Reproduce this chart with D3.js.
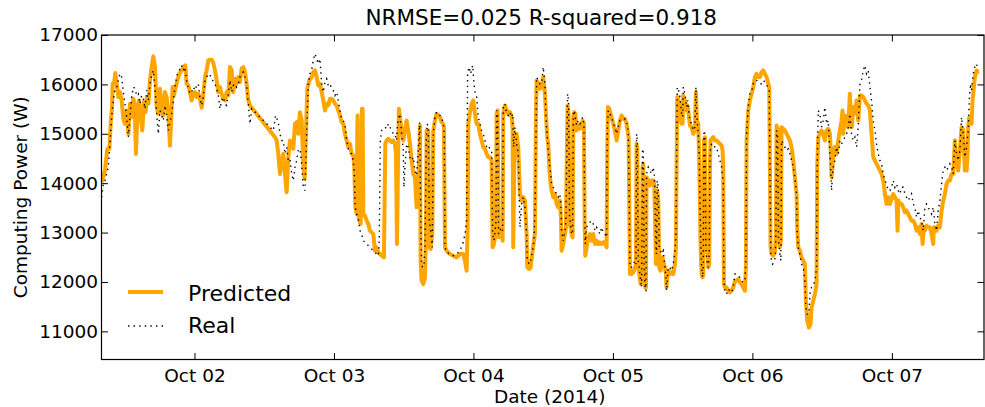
<!DOCTYPE html>
<html><head><meta charset="utf-8">
<script src="https://cdn.jsdelivr.net/npm/d3@7"></script>
<style>
body{margin:0;background:#fff}
svg{display:block}
text{font-family:"DejaVu Sans",sans-serif;fill:#000}
</style>
</head><body>
<svg id="chart" width="985" height="407"></svg>
<script>
// ---- data (hours since 2014-10-01 00:00, watts) ----
const chartTitle = "NRMSE=0.025 R-squared=0.918";
const yLabel = "Computing Power (W)";
const xLabel = "Date (2014)";
const seriesNames = ["Predicted", "Real"];
const yTickValues = [11000, 12000, 13000, 14000, 15000, 16000, 17000];
const xTickDays = [2, 3, 4, 5, 6, 7];   // October 2014, midnight
const xDomainHours = [8.0, 159.85];
const yDomain = [10430, 17000];

const predicted = [
[8.03,14020],[8.60,14255],[9.00,14695],[9.35,14695],[9.58,15202],[9.81,15540],[9.92,16013],[10.15,16013],[10.38,16229],[10.61,16013],[10.89,15743],[11.18,15844],[11.47,15675],[11.76,15303],[12.04,15202],[12.33,15472],[12.62,14999],[12.90,15607],[13.19,15337],[13.48,15709],[13.70,15607],[13.93,14593],[14.16,15405],[14.45,15675],[14.74,15337],[15.02,15067],[15.31,15641],[15.60,15438],[15.77,15709],[16.06,15607],[16.34,16081],[16.63,16351],[16.92,16567],[17.20,16351],[17.49,15540],[17.78,15405],[18.06,15912],[18.35,15506],[18.64,15371],[18.92,15844],[19.21,15743],[19.50,15405],[19.78,14762],[20.01,15337],[20.24,15945],[20.47,15776],[20.70,15912],[21.05,16081],[21.39,16216],[21.79,16283],[22.08,16351],[22.42,16385],[22.65,16013],[22.94,15979],[23.22,15844],[23.51,15675],[23.80,15810],[24.09,15844],[24.37,15743],[24.66,15810],[24.95,15709],[25.23,15526],[25.52,15810],[25.81,16148],[26.09,16283],[26.38,16486],[26.67,16500],[26.95,16500],[27.24,16432],[27.53,16283],[27.81,16081],[28.10,15844],[28.39,15945],[28.67,15810],[28.96,15709],[29.25,15675],[29.53,15844],[29.82,15776],[30.11,16351],[30.39,16283],[30.68,15844],[30.97,16114],[31.25,16013],[31.54,16148],[31.83,16047],[32.11,16317],[32.40,16351],[32.69,16250],[32.97,16013],[33.26,15675],[33.55,15574],[37.85,14931],[38.14,14864],[38.42,14593],[38.71,14188],[39.00,14458],[39.28,14593],[39.57,14188],[39.86,13816],[40.14,14526],[40.43,14864],[40.72,14796],[41.00,14695],[41.29,15202],[41.58,15236],[41.86,14999],[42.15,15438],[42.44,15269],[42.72,14391],[42.95,14087],[43.18,14999],[43.41,15912],[43.76,16081],[44.16,16148],[44.44,16250],[44.73,16283],[45.02,16148],[45.30,15979],
[45.59,16013],[45.88,15844],[46.16,15675],[46.45,15472],[46.74,15607],[47.02,15574],[47.31,15709],[47.60,15709],[47.88,15675],[48.17,15607],[48.46,15574],[48.74,15472],[49.03,15371],[49.32,15236],[49.61,15202],[49.89,14999],[50.18,14864],[50.47,14729],[50.75,14796],[51.04,14593],[51.33,14560],[51.50,14323],[51.67,13512],[51.90,13377],[52.01,14999],[52.07,15371],[52.19,13377],[52.36,13241],[52.59,13174],[52.76,13850],[52.82,15506],[52.93,15506],[53.05,13377],[53.33,13343],[53.62,13241],[53.91,13174],[54.19,13039],[54.48,13005],[54.77,12971],[54.88,12836],[55.05,12633],[55.34,12701],[55.63,12599],[56.20,12532],[56.60,12498],[56.83,14796],[57.06,14864],[57.35,14898],[57.63,14864],[57.92,14830],[58.21,14864],[58.49,14796],[58.67,14593],[58.84,12768],[59.01,14323],[59.18,15506],[59.35,15337],[59.64,15067],[59.93,14864],[60.21,15067],[60.50,15269],[60.79,15067],[61.07,14796],[61.36,14458],[61.65,14188],[61.93,14120],[62.22,13512],[62.39,13917],[62.62,14323],[62.80,15168],[62.91,12430],[63.08,12025],[63.37,11957],[63.65,12092],[63.83,12971],[63.94,15067],[64.23,15067],[64.40,12701],[64.63,12667],[64.92,12971],[65.09,15067],[65.38,15269],[65.66,15405],[65.95,15371],[66.24,15337],[66.52,15236],[66.81,15202],[66.92,15134],[67.10,12701],[67.38,12633],[67.96,12565],[68.53,12532],[69.10,12498],[69.68,12565],[70.25,12565],[70.54,12430],[70.82,12228],[71.00,13106],[71.11,15202],[71.40,15438],[71.68,15607],[71.97,15675],[72.26,15405],[72.55,15202],[72.83,15202],[73.12,14999],[73.41,14864],[73.69,14729],[73.98,14695],[74.27,14593],[74.55,14526],[74.84,14526],[75.13,14458],[75.30,12701],[75.53,12768],[75.70,12903],[75.87,13174],[75.99,15405],[76.16,15472],[76.33,12903],[76.56,12971],[76.85,13039],[77.02,12836],[77.13,15405],[77.42,15574],[77.71,15472],[77.99,15405],[78.28,15438],[78.57,15337],[78.74,15134],[78.85,12701],[79.02,14323],[79.14,14999],[79.43,14999],[79.71,14729],[80.00,13782],[80.29,13647],[80.57,13715],[80.86,13647],[81.15,12971],[81.26,12295],[81.61,12261],[81.84,12295],[82.18,12633],[82.41,12836],[82.58,12971],[82.75,15337],[82.87,16081],[83.15,16013],
[83.44,15912],[83.73,15945],[84.01,16148],[84.30,15810],[84.47,15405],[84.70,14931],[84.87,14796],[85.05,14323],[85.28,13985],[85.45,13850],[85.73,13715],[86.02,13782],[86.31,13579],[86.59,13512],[86.88,13647],[87.05,13309],[87.17,12633],[87.45,12768],[87.74,12971],[87.91,13106],[88.03,14188],[88.20,15574],[88.37,15405],[88.54,13174],[88.72,13106],[88.89,12971],[89.06,12903],[89.18,15337],[89.35,15438],[89.52,15405],[89.75,15067],[90.04,15168],[90.32,15101],[90.61,15202],[90.78,15269],[91.01,15202],[91.13,13241],[91.24,12532],[91.47,12701],[91.76,12903],[92.04,12971],[92.33,12836],[92.62,12971],[92.90,12768],[93.19,12836],[93.48,12768],[93.76,12802],[94.05,12768],[94.34,12802],[94.62,12802],[94.91,12701],[95.03,14661],[95.14,15540],[95.37,15506],[95.60,15405],[95.83,15303],[96.06,15202],[96.34,15067],[96.63,14864],[96.92,15067],[97.20,15269],[97.49,15371],[97.78,15303],[98.06,15303],[98.35,15202],[98.52,15067],[98.70,14931],[98.81,13647],[98.93,12160],[99.21,12160],[99.50,12194],[99.79,12295],[99.96,12363],[100.07,14796],[100.19,14729],[100.36,12295],[100.53,12160],[100.76,11957],[100.93,12025],[101.10,14323],[101.22,14391],[101.39,12295],[101.56,11889],[101.68,11889],[101.79,14120],[102.08,14053],[102.37,13951],[102.65,14053],[102.94,14053],[103.11,13985],[103.23,13377],[103.40,12363],[103.51,12363],[103.63,13850],[103.80,13647],[103.97,12295],[104.20,12228],[104.37,12430],[104.55,12498],[104.77,12363],[104.95,12295],[105.12,12160],[105.23,11889],[105.41,12160],[105.58,12228],[105.81,12160],[106.09,12194],[106.38,12160],[106.67,12363],[106.84,12701],[106.95,14323],[107.07,15743],[107.30,15675],[107.53,15438],[107.81,15202],[107.99,15202],[108.10,15776],[108.39,15675],[108.67,15472],[108.85,15574],[109.02,15405],[109.25,15168],[109.53,15134],[109.82,14999],[110.11,15067],[110.28,15844],[110.45,15269],[110.68,15202],[110.85,14458],[110.97,13647],[111.08,12768],[111.26,12160],[111.43,12092],[111.54,12160],[111.66,14864],[111.83,14931],[112.00,12701],[112.23,12971],[112.40,12295],[112.57,12363],[112.69,14323],[112.80,14864],[112.98,14898],[113.26,14931],[113.55,14864],[113.84,14864],[114.12,14830],[114.41,14796],[114.70,14762],[114.87,14661],[114.98,14323],[115.10,11957],[115.27,11889],[115.56,11889],[115.84,11822],[116.13,11788],[116.42,11822],[116.70,11889],[116.99,12025],[117.28,12025],[117.56,12058],[117.85,11991],[118.14,11957],[118.42,11889],[118.71,11822],[118.88,12295],[119.00,14864],[119.28,15472],[119.57,15675],[119.86,15810],[120.14,15945],[120.43,16148],[120.72,16216],[121.00,16148],
[121.29,16148],[121.58,16250],[121.86,16283],[122.15,16216],[122.44,16148],[122.72,16013],[122.90,15945],[123.01,14323],[123.13,12701],[123.30,12565],[123.58,12532],[123.87,12599],[124.04,12971],[124.16,15168],[124.33,15101],[124.50,12971],[124.73,12701],[124.90,12836],[125.02,15134],[125.31,15101],[125.59,15067],[125.88,14999],[126.17,14931],[126.45,14864],[126.74,14729],[127.03,14458],[127.31,14120],[127.60,13782],[127.71,13106],[127.89,12701],[128.17,12633],[128.46,12498],[128.75,12430],[129.03,12363],[129.20,11619],[129.43,11213],[129.72,11078],[130.01,11146],[130.18,11484],[130.47,11619],[130.75,11754],[131.04,11957],[131.15,14323],[131.33,14931],[131.61,14999],[131.90,15067],[132.19,14999],[132.47,14864],[132.76,15067],[133.05,15101],[133.33,14999],[133.51,14593],[133.62,14120],[133.79,14323],[133.91,14661],[134.19,14729],[134.48,14593],[134.77,14864],[135.05,15067],[135.34,15269],[135.51,15472],[135.63,14999],[135.91,15371],[136.20,15337],[136.49,15134],[136.77,15810],[136.95,15337],[137.12,15134],[137.35,15540],[137.63,15405],[137.92,15675],[138.21,15269],[138.50,15776],[138.78,15776],[139.07,15743],[139.36,15675],[139.64,15607],[139.93,15574],[140.22,15472],[140.50,14999],[140.79,14526],[141.08,14458],[141.36,14391],[141.65,14323],[141.94,14255],[142.22,14188],[142.51,14053],[142.80,13782],[143.08,13579],[143.37,13715],[143.66,13579],[143.94,13681],[144.23,13782],[144.52,13715],[144.80,13647],[144.98,13039],[145.09,13647],[145.38,13579],[145.66,13579],[145.95,13512],[146.24,13410],[146.52,13444],[146.81,13377],[147.10,13309],[147.38,13241],[147.67,13241],[147.96,13174],[148.24,13039],[148.53,13106],[148.82,12971],[149.10,13174],[149.28,12768],[149.51,13106],[149.68,13039],[149.97,13140],[150.25,13106],[150.54,13106],[150.83,12971],[151.11,12768],[151.23,13106],[151.40,13106],[151.69,13039],[151.97,13140],[152.26,13106],[152.55,13444],[152.83,13647],[153.12,13782],[153.41,13985],[153.69,14053],[153.98,14053],[154.27,14188],[154.55,14188],[154.84,14864],[155.13,14458],[155.41,14255],[155.70,14661],[155.99,15134],[156.27,15067],[156.56,14255],[156.85,14255],[157.02,14593],[157.14,15134],[157.31,15337],[157.54,15269],[157.71,15202],[157.88,15675],[158.11,15945],[158.28,16148],[158.57,16283],[158.80,16216]
];

const real = [
[8.03,13715],[8.31,13985],[8.60,14053],[8.89,14188],[9.17,14323],[9.46,14796],[9.75,15337],[10.03,15675],[10.32,15912],[10.61,15945],[10.89,16081],[11.18,16216],[11.47,16148],[11.76,15844],[12.04,15607],[12.33,15337],[12.62,14931],[12.90,15337],[13.19,15743],[13.48,15945],[13.76,15912],[14.05,15776],[14.34,15810],[14.62,15607],[14.91,15776],[15.20,15709],[15.48,15506],[15.77,15878],[16.06,15675],[16.34,16013],[16.63,16182],[16.92,16283],[17.20,15945],[17.49,15405],[17.78,14999],[18.06,15472],[18.35,15371],[18.64,15269],[18.92,15574],[19.21,15371],[19.50,15067],[19.78,15236],[20.07,15405],[20.36,15675],[20.64,15945],[21.05,16216],[21.39,16283],[21.79,16385],[22.08,16283],[22.36,16351],[22.65,16081],[22.94,15912],[23.22,15810],[23.51,15844],[23.80,15945],[24.09,15878],[24.37,15979],[24.66,16013],[24.95,15709],[25.23,15574],[25.52,15743],[25.81,16081],[26.09,16148],[26.38,16216],[26.67,16182],[26.95,16148],[27.24,16047],[27.53,16013],[27.81,15912],[28.10,15776],[28.39,15506],[28.67,15675],[28.96,15743],[29.25,15607],[29.53,15574],[29.82,15810],[30.11,16081],[30.39,15844],[30.68,15979],[30.97,16013],[31.25,15945],[31.54,16013],[31.83,16148],[32.11,16216],[32.40,16250],[32.69,16148],[32.97,15979],[33.26,15607],[33.55,15202],[33.83,15506],[37.56,15067],[37.96,15371],[38.42,15236],[38.71,14999],[39.00,14864],[39.28,14864],[39.57,14593],[39.86,14729],[40.14,14458],[40.43,14492],[40.72,14188],[41.00,14053],[41.29,14323],[41.58,14458],[41.86,14661],[42.15,14695],[42.44,14391],[42.72,13917],[43.01,13850],[43.30,14999],[43.58,16013],[43.87,16216],[44.16,16283],[44.44,16486],[44.73,16621],[45.02,16520],[45.30,16419],
[45.59,16520],[45.88,16013],[46.16,15844],[46.45,16047],[46.74,16114],[47.02,15979],[47.31,16013],[47.60,15912],[47.88,15878],[48.17,15776],[48.46,15844],[48.74,15675],[49.03,15472],[49.32,15303],[49.61,15269],[49.89,15168],[50.18,14864],[50.47,14695],[50.75,14627],[51.04,14593],[51.33,14458],[51.50,14188],[51.67,13512],[51.90,13377],[52.19,13275],[52.48,13039],[52.76,12971],[53.05,12836],[53.33,12802],[53.62,12768],[54.19,12701],[54.77,12633],[55.34,12565],[55.63,12532],[55.80,12836],[55.97,14864],[56.20,15067],[56.49,15101],[56.77,15134],[57.06,15101],[57.35,15202],[57.63,15134],[57.92,15067],[58.21,14999],[58.49,14999],[58.78,14864],[58.95,15202],[59.18,15337],[59.35,15405],[59.64,14999],[59.93,14661],[60.04,13917],[60.21,14323],[60.50,14796],[60.79,14729],[61.07,14526],[61.36,14458],[61.65,14526],[61.93,14255],[62.22,14154],[62.51,14661],[62.74,15236],[62.97,13039],[63.08,12363],[63.26,12295],[63.49,12363],[63.65,12633],[63.89,14864],[64.06,15202],[64.23,15101],[64.40,13241],[64.63,13039],[64.92,12701],[65.09,14999],[65.38,15337],[65.66,15438],[65.95,15405],[66.24,15371],[66.52,15337],[66.81,15202],[66.98,14999],[67.10,12701],[67.38,12599],[67.96,12565],[68.53,12532],[69.10,12565],[69.68,12633],[70.25,12802],[70.65,13039],[70.82,13241],[71.00,16216],[71.23,16351],[71.51,16216],[71.86,16385],[72.09,16013],[72.32,15810],[72.55,15743],[72.83,15337],[73.12,15202],[73.41,15067],[73.69,14999],[73.98,14864],[74.27,14729],[74.55,14762],[74.84,14695],[75.13,14661],[75.30,12971],[75.53,12836],[75.70,12971],[75.87,13241],[75.99,15472],[76.16,15405],[76.33,12971],[76.56,13039],[76.85,13106],[77.02,13039],[77.13,15574],[77.42,15607],[77.71,15405],[77.99,15371],[78.28,15438],[78.57,15337],[78.74,15405],[78.91,14729],[79.14,15134],[79.43,14796],[79.71,14593],[80.00,13106],[80.29,13579],[80.57,13715],[80.86,13512],[81.15,12971],[81.26,12430],[81.61,12363],[81.84,12430],[82.18,12633],[82.41,12836],[82.64,13647],[82.87,16148],[83.15,16081],
[83.44,16013],[83.73,16013],[84.01,16351],[84.30,16013],[84.47,15337],[84.70,14931],[84.87,14661],[85.16,14323],[85.45,13985],[85.73,13917],[86.02,13850],[86.31,13782],[86.59,13715],[86.88,13782],[87.05,13512],[87.17,13039],[87.45,12836],[87.74,13039],[87.91,13241],[88.03,14323],[88.20,15810],[88.37,15675],[88.54,13309],[88.72,13174],[88.89,12971],[89.06,12971],[89.18,15405],[89.35,15472],[89.52,15337],[89.75,15168],[90.04,15269],[90.32,15202],[90.61,15269],[90.78,15337],[91.01,15202],[91.13,13512],[91.24,12768],[91.47,13106],[91.76,13174],[92.04,13208],[92.33,13241],[92.62,13174],[92.90,13039],[93.19,13106],[93.48,13039],[93.76,12971],[94.05,13106],[94.34,13005],[94.62,12971],[94.91,12903],[95.03,15134],[95.20,15472],[95.49,15405],[95.77,15337],[96.06,15202],[96.34,15134],[96.63,14999],[96.92,15134],[97.20,15269],[97.49,15269],[97.78,15269],[98.06,15303],[98.35,15236],[98.64,15067],[98.81,13647],[98.93,12295],[99.21,12295],[99.50,12363],[99.79,12430],[99.96,12363],[100.07,14999],[100.19,14864],[100.36,12430],[100.53,12295],[100.76,12025],[100.93,11889],[101.10,14661],[101.22,14695],[101.39,12295],[101.56,11822],[101.68,11822],[101.79,14188],[102.08,14323],[102.37,14255],[102.65,14188],[102.94,14323],[103.11,14188],[103.23,13782],[103.40,12701],[103.51,12565],[103.63,14053],[103.80,13917],[103.97,12701],[104.20,12633],[104.37,12565],[104.66,12633],[104.95,12295],[105.12,12092],[105.23,11822],[105.52,12295],[105.81,12295],[106.09,12228],[106.38,12363],[106.67,12633],[106.84,12903],[106.95,14458],[107.07,15945],[107.30,15878],[107.53,15743],[107.81,15405],[107.99,15337],[108.10,15945],[108.39,15810],[108.67,15540],[108.85,15675],[109.02,15472],[109.25,15269],[109.53,15202],[109.82,15067],[110.11,15134],[110.28,15945],[110.45,15337],[110.68,14999],[110.85,14593],[110.97,13647],[111.08,12971],[111.26,12295],[111.43,12092],[111.54,12295],[111.66,15067],[111.83,14999],[112.00,12633],[112.23,12363],[112.40,12295],[112.57,12565],[112.69,14458],[112.80,14729],[112.98,14796],[113.26,14796],[113.55,14729],[113.84,14729],[114.12,14593],[114.41,14458],[114.70,14323],[114.87,14120],[114.98,14053],[115.10,12025],[115.27,11822],[115.56,11754],[115.84,11856],[116.13,11822],[116.42,11788],[116.70,11889],[116.99,12160],[117.28,12160],[117.56,12126],[117.85,12092],[118.14,12025],[118.42,11991],[118.71,12025],[118.88,12430],[119.00,14999],[119.28,15540],[119.57,15810],[119.86,15844],[120.14,16013],[120.43,16081],[120.72,16081],[121.00,16047],
[121.29,16013],[121.58,16013],[121.86,16081],[122.15,16047],[122.44,15979],[122.72,15945],[122.90,15878],[123.01,14323],[123.18,12498],[123.47,12363],[123.70,12396],[123.93,12498],[124.04,12971],[124.16,15067],[124.33,14931],[124.50,12836],[124.73,12565],[124.90,12430],[125.02,14864],[125.31,14796],[125.59,14729],[125.88,14661],[126.17,14695],[126.45,14593],[126.74,14458],[127.03,14323],[127.31,14120],[127.60,13782],[127.71,12971],[127.89,12701],[128.17,12565],[128.46,12363],[128.75,12295],[129.03,12025],[129.20,11484],[129.43,11349],[129.72,11349],[129.89,11754],[130.18,11889],[130.47,11923],[130.75,12025],[131.04,12295],[131.15,14323],[131.33,15472],[131.61,15405],[131.90,15134],[132.19,15269],[132.47,15540],[132.76,15202],[133.05,15269],[133.33,14593],[133.51,14188],[133.62,13850],[133.79,14188],[133.91,14323],[134.19,14458],[134.48,14729],[134.77,14593],[135.05,14864],[135.34,14796],[135.63,14864],[135.91,14931],[136.20,14999],[136.49,15134],[136.77,15405],[137.06,14999],[137.35,14864],[137.63,14931],[137.92,14729],[138.21,15134],[138.50,16013],[138.78,16081],[139.07,16283],[139.36,16385],[139.64,16216],[139.93,16283],[140.22,15945],[140.50,15675],[140.79,15269],[141.08,15067],[141.36,14796],[141.65,14593],[141.94,14458],[142.22,14391],[142.51,14188],[142.80,14053],[143.08,13985],[143.37,13850],[143.66,13850],[143.94,13917],[144.23,14053],[144.52,13917],[144.80,13985],[145.09,13850],[145.38,13782],[145.66,13917],[145.95,13917],[146.24,13782],[146.52,13715],[146.81,13647],[147.10,13715],[147.38,13782],[147.67,13579],[147.96,13512],[148.24,13309],[148.53,13444],[148.82,13309],[149.10,13241],[149.39,13039],[149.68,13512],[149.97,13579],[150.25,13512],[150.54,13444],[150.83,13377],[151.11,13512],[151.40,13174],[151.69,13039],[151.97,13444],[152.26,13647],[152.55,13985],[152.83,14255],[153.12,14323],[153.41,14255],[153.69,14323],[153.98,14391],[154.27,14323],[154.55,14188],[154.84,14864],[155.13,14593],[155.41,14458],[155.70,14661],[155.99,15337],[156.27,14999],[156.56,14526],[156.85,14729],[157.14,15067],[157.31,15675],[157.54,16013],[157.71,15878],[158.00,16216],[158.28,16351],[158.57,16419],[158.80,16283]
];

// ---- drawing ----
const svg = d3.select("#chart");
const m = {l: 101.5, r: 984, t: 35, b: 359.5};
const t0 = Date.UTC(2014, 9, 1);
const toDate = h => new Date(t0 + h * 3600e3);

const x = d3.scaleUtc().domain(xDomainHours.map(toDate)).range([m.l, m.r]);
const y = d3.scaleLinear().domain(yDomain).range([m.b, m.t]);

svg.append("rect").attr("width", 985).attr("height", 407).attr("fill", "#fff");

svg.append("defs").append("clipPath").attr("id", "clip")
  .append("rect").attr("x", m.l).attr("y", m.t).attr("width", m.r - m.l).attr("height", m.b - m.t);

const line = d3.line().x(d => x(toDate(d[0]))).y(d => y(d[1]));
const plot = svg.append("g").attr("clip-path", "url(#clip)");

plot.append("path").datum(predicted)
  .attr("d", line).attr("fill", "none")
  .attr("stroke", "#FFA500").attr("stroke-width", 4)
  .attr("stroke-linejoin", "round").attr("stroke-linecap", "butt");

plot.append("path").datum(real)
  .attr("d", line).attr("fill", "none")
  .attr("stroke", "#000").attr("stroke-width", 1.4)
  .attr("stroke-dasharray", "1.4,4.2");

// axes
const xTicks = xTickDays.map(d => new Date(Date.UTC(2014, 9, d)));
const fmt = d3.utcFormat("%b %d");
const tick = 6.5;

function styleAxis(g) {
  g.select(".domain").remove();
  g.selectAll(".tick line").attr("stroke", "#000").attr("stroke-width", 1);
  g.selectAll(".tick text").attr("font-size", 18.5).attr("font-family", "DejaVu Sans").attr("fill", "#000");
}

svg.append("g").attr("transform", `translate(0,${m.b})`)
  .call(d3.axisBottom(x).tickValues(xTicks).tickFormat(fmt).tickSizeInner(-tick).tickSizeOuter(0).tickPadding(9.5))
  .call(styleAxis);
svg.append("g").attr("transform", `translate(0,${m.t})`)
  .call(d3.axisTop(x).tickValues(xTicks).tickFormat("").tickSizeInner(-tick).tickSizeOuter(0))
  .call(styleAxis);
svg.append("g").attr("transform", `translate(${m.l},0)`)
  .call(d3.axisLeft(y).tickValues(yTickValues).tickFormat(d3.format("d")).tickSizeInner(-tick).tickSizeOuter(0).tickPadding(3.5))
  .call(styleAxis);
svg.append("g").attr("transform", `translate(${m.r},0)`)
  .call(d3.axisRight(y).tickValues(yTickValues).tickFormat("").tickSizeInner(-tick).tickSizeOuter(0))
  .call(styleAxis);

svg.append("rect").attr("x", m.l).attr("y", m.t).attr("width", m.r - m.l).attr("height", m.b - m.t)
  .attr("fill", "none").attr("stroke", "#000").attr("stroke-width", 1.2);

// labels
svg.append("text").attr("x", (m.l + m.r) / 2 - 1.5).attr("y", 25)
  .attr("text-anchor", "middle").attr("font-size", 21.5).text(chartTitle);
svg.append("text").attr("x", (m.l + m.r) / 2 + 7).attr("y", 403)
  .attr("text-anchor", "middle").attr("font-size", 18.5).text(xLabel);
svg.append("text").attr("transform", `translate(27,${(m.t + m.b) / 2}) rotate(-90)`)
  .attr("text-anchor", "middle").attr("font-size", 18.5).text(yLabel);

// legend
const lg = svg.append("g");
const legendItems = [
  {name: seriesNames[0], color: "#FFA500", width: 4, dash: null, y: 292, ty: 301},
  {name: seriesNames[1], color: "#000", width: 1.4, dash: "1.4,4.2", y: 326, ty: 333}
];
legendItems.forEach(it => {
  lg.append("line").attr("x1", 128).attr("x2", 163).attr("y1", it.y).attr("y2", it.y)
    .attr("stroke", it.color).attr("stroke-width", it.width).attr("stroke-dasharray", it.dash);
  lg.append("text").attr("x", 188).attr("y", it.ty).attr("font-size", 22).text(it.name);
});
</script>
</body></html>
